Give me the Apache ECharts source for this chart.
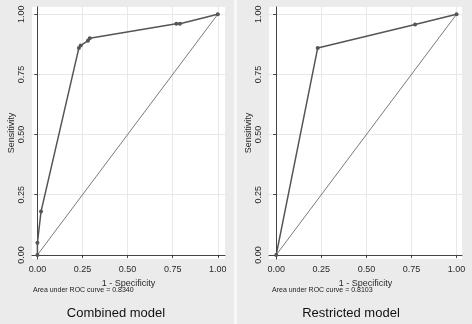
<!DOCTYPE html>
<html>
<head>
<meta charset="utf-8">
<script src="https://cdn.jsdelivr.net/npm/echarts@6/dist/echarts.min.js"></script>
<style>
  html, body { margin: 0; padding: 0; background: #ebebeb; }
  #chart { width: 472px; height: 324px; }
</style>
</head>
<body>
<div id="chart"></div>
<script>
// ticks shared by both panels
const tickValues = [0, 0.25, 0.5, 0.75, 1]
const tickLabels = ['0.00', '0.25', '0.50', '0.75', '1.00']

// ROC points (1 - specificity, sensitivity)
const combinedX = [0, 0, 0.02, 0.23, 0.24, 0.28, 0.29, 0.77, 0.79, 1]
const combinedY = [0, 0.05, 0.18, 0.86, 0.87, 0.89, 0.90, 0.96, 0.96, 1]
const restrictedX = [0, 0.23, 0.77, 1]
const restrictedY = [0, 0.86, 0.957, 1]
const refX = [0, 1]
const refY = [0, 1]

const panelTitles = ['Combined model', 'Restricted model']
const aucLabels = ['Area under ROC curve = 0.8340', 'Area under ROC curve = 0.8103']

const font = '"Liberation Sans", Arial, sans-serif'
const pairs = (xs, ys) => xs.map((x, i) => [x, ys[i]])

const chart = echarts.init(document.getElementById('chart'))

function xAxisFor(gridIndex, min, max) {
  return {
    gridIndex, type: 'value', min, max,
    name: '1 - Specificity', nameLocation: 'middle', nameGap: 15,
    nameTextStyle: { color: '#2a2a2a', fontSize: 9, fontFamily: font },
    axisLine: { show: true, lineStyle: { color: '#444', width: 1 } },
    axisTick: { show: true, length: 3, customValues: tickValues, lineStyle: { color: '#444' } },
    axisLabel: {
      customValues: tickValues, margin: 6, color: '#2a2a2a', fontSize: 9, fontFamily: font,
      formatter: v => tickLabels[tickValues.indexOf(v)] ?? '',
    },
    splitLine: { show: true, lineStyle: { color: '#e8e8e8', width: 1 } },
  }
}

function yAxisFor(gridIndex) {
  return {
    gridIndex, type: 'value', min: -0.017, max: 1.03,
    name: 'Sensitivity', nameLocation: 'middle', nameGap: 16, nameRotate: 90,
    nameTextStyle: { color: '#2a2a2a', fontSize: 9, fontFamily: font },
    axisLine: { show: true, lineStyle: { color: '#444', width: 1 } },
    axisTick: { show: true, length: 3, customValues: tickValues, lineStyle: { color: '#444' } },
    axisLabel: {
      customValues: tickValues, rotate: 90, margin: 6, color: '#2a2a2a', fontSize: 9, fontFamily: font,
      formatter: v => tickLabels[tickValues.indexOf(v)] ?? '',
    },
    splitLine: { show: true, lineStyle: { color: '#e8e8e8', width: 1 } },
  }
}

function rocSeries(idx, xs, ys) {
  return [
    {
      type: 'line', xAxisIndex: idx, yAxisIndex: idx, data: pairs(refX, refY),
      showSymbol: false, lineStyle: { color: '#7a7a7a', width: 1 }, z: 2,
    },
    {
      type: 'line', xAxisIndex: idx, yAxisIndex: idx, data: pairs(xs, ys),
      symbol: 'circle', symbolSize: 4,
      itemStyle: { color: '#555' }, lineStyle: { color: '#555', width: 1.5 }, z: 3,
    },
  ]
}

const textEl = (text, x, y, size, align, color) => ({
  type: 'text', x, y,
  style: { text, fontSize: size, fontFamily: font, fill: color, textAlign: align, textVerticalAlign: 'middle' },
})

chart.setOption({
  backgroundColor: '#ebebeb',
  animation: false,
  grid: [
    { left: 32, top: 7, width: 193, height: 252, show: true, backgroundColor: '#fff', borderWidth: 0 },
    { left: 269, top: 7, width: 193, height: 252, show: true, backgroundColor: '#fff', borderWidth: 0 },
  ],
  xAxis: [xAxisFor(0, -0.03, 1.04), xAxisFor(1, -0.04, 1.03)],
  yAxis: [yAxisFor(0), yAxisFor(1)],
  series: [...rocSeries(0, combinedX, combinedY), ...rocSeries(1, restrictedX, restrictedY)],
  graphic: [
    { type: 'rect', shape: { x: 234, y: 0, width: 3, height: 324 }, style: { fill: '#f7f7f7' } },
    textEl(aucLabels[0], 33, 290, 7, 'left', '#222'),
    textEl(aucLabels[1], 272, 290, 7, 'left', '#222'),
    textEl(panelTitles[0], 116, 313, 13, 'center', '#111'),
    textEl(panelTitles[1], 351, 313, 13, 'center', '#111'),
  ],
})
</script>
</body>
</html>
